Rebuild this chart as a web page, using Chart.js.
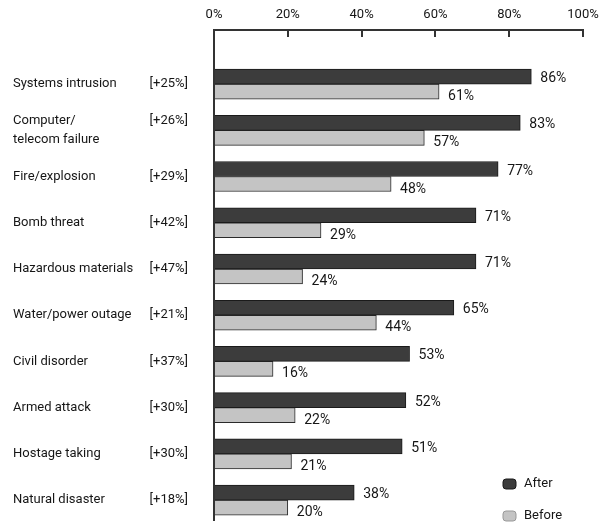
<!DOCTYPE html>
<html>
<head>
<meta charset="utf-8">
<script src="https://cdn.jsdelivr.net/npm/chart.js@4.4.1/dist/chart.umd.min.js"></script>
<style>
  html, body { margin: 0; padding: 0; background: #fff; }
  canvas { display: block; }
</style>
</head>
<body>
<canvas id="chart" width="601" height="527"></canvas>
<script>
const categories = [
    'Systems intrusion',
    ['Computer/', 'telecom failure'],
    'Fire/explosion',
    'Bomb threat',
    'Hazardous materials',
    'Water/power outage',
    'Civil disorder',
    'Armed attack',
    'Hostage taking',
    'Natural disaster'
];
const increases = ['+25%', '+26%', '+29%', '+42%', '+47%', '+21%', '+37%', '+30%', '+30%', '+18%'];
const afterValues = [86, 83, 77, 71, 71, 65, 53, 52, 51, 38];
const beforeValues = [61, 57, 48, 29, 24, 44, 16, 22, 21, 20];
const xTicks = [0, 20, 40, 60, 80, 100];

const textColor = '#161616';
const fontFamily = 'Roboto, "Open Sans", sans-serif';

// each series is placed on a linear index axis, one row per category
const toPoints = values => values.map((v, i) => ({ x: v, y: i }));

const rowTicks = scale => {
    scale.ticks = categories.map((_, i) => ({ value: i }));
};

// keep the axis from reserving extra room for its end labels
const noEdgePadding = scale => {
    scale.paddingTop = 0;
    scale.paddingBottom = 0;
    scale.paddingLeft = 0;
    scale.paddingRight = 0;
};

// delta text sits on the first line of a two-line category label
const deltaLabel = i => {
    const text = '[' + increases[i] + ']';
    return Array.isArray(categories[i]) ? [text, ''] : text;
};

// value labels at the end of each bar
const valueLabels = {
    id: 'valueLabels',
    afterDatasetsDraw(chart) {
        const ctx = chart.ctx;
        ctx.save();
        ctx.font = '14px ' + fontFamily;
        ctx.fillStyle = textColor;
        ctx.textAlign = 'left';
        ctx.textBaseline = 'middle';
        chart.data.datasets.forEach((ds, di) => {
            const meta = chart.getDatasetMeta(di);
            meta.data.forEach((bar, i) => {
                const dy = di === 0 ? 2 : 5;
                ctx.fillText(ds.data[i].x + '%', bar.x + 9, bar.y + dy);
            });
        });
        ctx.restore();
    }
};

// legend in the lower right corner, stacked vertically
const cornerLegend = {
    id: 'cornerLegend',
    afterDraw(chart) {
        const ctx = chart.ctx;
        const area = chart.chartArea;
        ctx.save();
        ctx.font = '13px ' + fontFamily;
        ctx.textBaseline = 'middle';
        ctx.textAlign = 'left';
        chart.data.datasets.forEach((ds, i) => {
            const x = area.right - 80;
            const y = area.bottom - 36 + i * 32;
            ctx.fillStyle = ds.backgroundColor;
            ctx.strokeStyle = i === 0 ? ds.borderColor : '#999';
            ctx.lineWidth = 1;
            ctx.beginPath();
            ctx.roundRect(x, y - 5, 13, 10, 3);
            ctx.fill();
            ctx.stroke();
            ctx.fillStyle = textColor;
            ctx.fillText(ds.label, x + 21, y);
        });
        ctx.restore();
    }
};

const rowRange = {
    type: 'linear',
    position: 'left',
    min: -1.17,
    max: 9.43,
    reverse: true,
    offset: false,
    afterBuildTicks: rowTicks
};

const sideAxis = (weight, width, padding, crossAlign, callback) => Object.assign({}, rowRange, {
    weight,
    afterFit: scale => {
        scale.width = width;
        noEdgePadding(scale);
    },
    grid: { display: false, drawTicks: false, offset: false },
    border: { display: false },
    ticks: {
        color: textColor,
        font: { family: fontFamily, size: 13, lineHeight: 1.4 },
        autoSkip: false,
        padding,
        crossAlign,
        callback
    }
});

new Chart(document.getElementById('chart'), {
    type: 'bar',
    data: {
        datasets: [
            {
                label: 'After',
                data: toPoints(afterValues),
                backgroundColor: '#3c3c3c',
                borderColor: '#1a1a1a',
                borderWidth: 1,
                borderSkipped: 'start',
                barThickness: 15
            },
            {
                label: 'Before',
                data: toPoints(beforeValues),
                backgroundColor: '#c4c4c4',
                borderColor: '#2a2a2a',
                borderWidth: 1,
                borderSkipped: 'start',
                barThickness: 15
            }
        ]
    },
    options: {
        responsive: false,
        animation: false,
        indexAxis: 'y',
        layout: { padding: { top: 0, right: 18, bottom: 7, left: 13 } },
        plugins: {
            legend: { display: false },
            tooltip: { enabled: false }
        },
        scales: {
            x: {
                type: 'linear',
                position: 'top',
                min: 0,
                max: 100,
                afterBuildTicks: scale => {
                    scale.ticks = xTicks.map(v => ({ value: v }));
                },
                afterFit: scale => {
                    scale.height = 30;
                    noEdgePadding(scale);
                },
                grid: {
                    drawOnChartArea: false,
                    drawTicks: true,
                    tickLength: -7,
                    color: '#333',
                    lineWidth: 2
                },
                border: { display: true, color: '#333', width: 2 },
                ticks: {
                    color: textColor,
                    font: { family: fontFamily, size: 13 },
                    padding: 14,
                    callback: v => v + '%'
                }
            },
            y: Object.assign({}, rowRange, {
                weight: 0,
                afterFit: scale => {
                    scale.width = 0;
                    noEdgePadding(scale);
                },
                grid: { display: false, drawTicks: false, offset: false },
                border: { display: true, color: '#333', width: 2 },
                ticks: { display: false }
            }),
            yDelta: sideAxis(1, 69, 26, 'near', v => deltaLabel(v)),
            yLabel: sideAxis(2, 132, 0, 'far', v => categories[v])
        }
    },
    plugins: [valueLabels, cornerLegend]
});
</script>
</body>
</html>
